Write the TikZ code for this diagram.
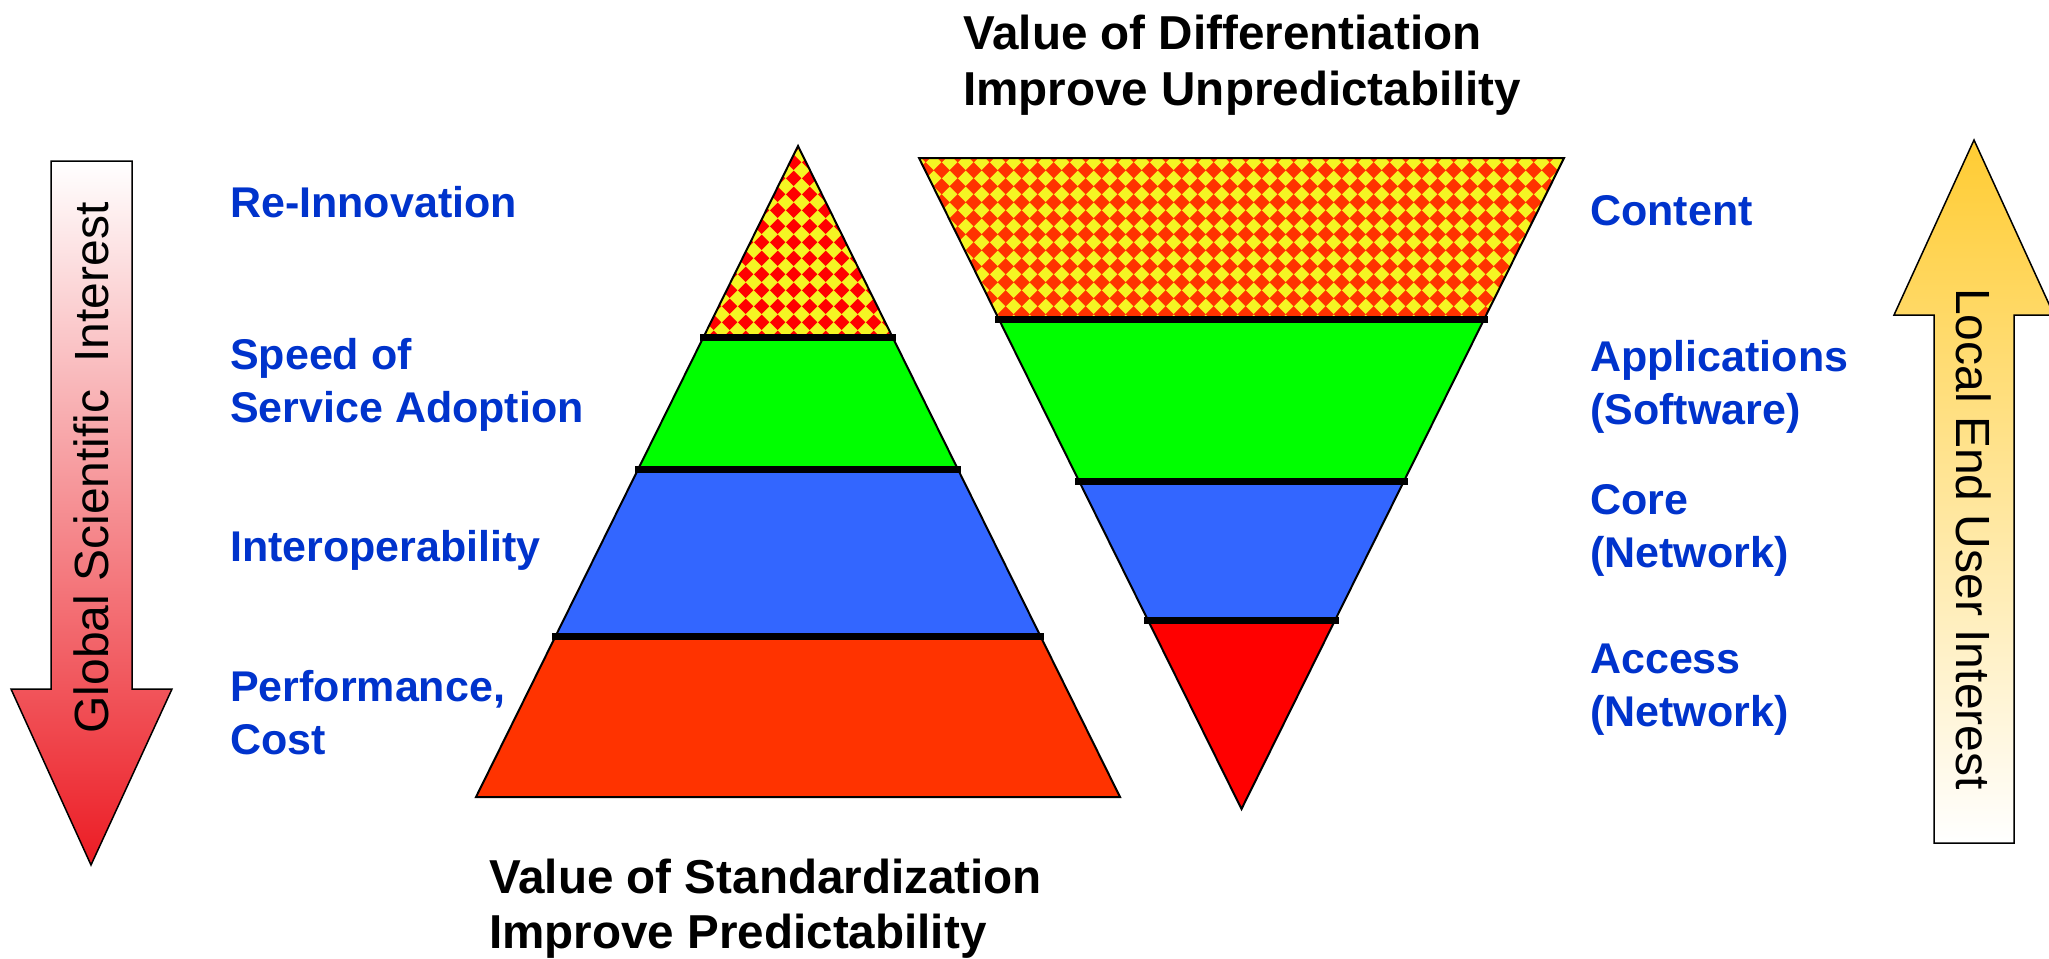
\documentclass[tikz,border=0pt]{standalone}
\usepackage{fontspec}
\setmainfont{Liberation Sans}
\usetikzlibrary{patterns}

\definecolor{lblblue}{RGB}{0,51,204}
\definecolor{bandgreen}{RGB}{0,255,0}
\definecolor{bandblue}{RGB}{51,102,255}
\definecolor{bandorange}{RGB}{255,51,0}
\definecolor{bandred}{RGB}{255,0,0}
\definecolor{checkyellow}{RGB}{245,245,35}
\definecolor{arrowred}{RGB}{236,28,36}
\definecolor{arrowgold}{RGB}{255,204,51}

% diagonal checker tile
\pgfdeclarepatternformonly{checkdiamond}{\pgfpointorigin}{\pgfqpoint{15.7pt}{15.7pt}}{\pgfqpoint{15.7pt}{15.7pt}}{%
  \pgfpathmoveto{\pgfqpoint{7.85pt}{0pt}}%
  \pgfpathlineto{\pgfqpoint{15.7pt}{7.85pt}}%
  \pgfpathlineto{\pgfqpoint{7.85pt}{15.7pt}}%
  \pgfpathlineto{\pgfqpoint{0pt}{7.85pt}}%
  \pgfpathclose
  \pgfusepath{fill}}

\begin{document}
\begin{tikzpicture}[x=1pt,y=-1pt,
    lbl/.style={anchor=base west, inner sep=0pt, align=left, text=lblblue,
      font=\bfseries\fontsize{43}{53}\selectfont},
    ttl/.style={anchor=base west, inner sep=0pt, align=left,
      font=\bfseries\fontsize{47.6}{55}\selectfont},
    arrowtxt/.style={inner sep=0pt, font=\fontsize{48}{58}\selectfont},
    outline/.style={draw=black, line width=2pt, line join=miter},
    divider/.style={draw=black, line width=7pt},
    checker/.style 2 args={fill=#1, postaction={pattern=checkdiamond, pattern color=#2}}]
    \useasboundingbox (0,0) rectangle (2049,958);

    % Side arrows
    \draw[line width=1.5pt, shading=axis, top color=white, bottom color=arrowred]
        (51,161) -- (132,161) -- (132,689) -- (172,689) -- (91,865) -- (11,689) -- (51,689) -- cycle;
    \draw[line width=1.5pt, shading=axis, top color=arrowgold, bottom color=white]
        (1974,140) -- (2054,315) -- (2014,315) -- (2014,843) -- (1934,843) -- (1934,315) -- (1894,315) -- cycle;
    \node[arrowtxt, rotate=90] (global) at (91,468) {Global Scientific\ \ Interest};
    \node[arrowtxt, rotate=-90] (local) at (1974,539) {Local End User Interest};

    % Standardization pyramid
    \path[checker={checkyellow}{bandred}] (798,146) -- (892.5,337) -- (703.5,337) -- cycle;
    \fill[bandgreen] (703.5,337) -- (892.5,337) -- (957.8,469) -- (638.2,469) -- cycle;
    \fill[bandblue] (638.2,469) -- (957.8,469) -- (1040.4,636) -- (555.6,636) -- cycle;
    \fill[bandorange] (555.6,636) -- (1040.4,636) -- (1120,797) -- (476,797) -- cycle;
    \draw[outline] (798,146) -- (1120,797) -- (476,797) -- cycle;
    \draw[divider] (700,337) -- (896,337);
    \draw[divider] (635,469) -- (961,469);
    \draw[divider] (552,636) -- (1044,636);

    % Differentiation funnel
    \path[checker={bandorange}{checkyellow}] (919,158) -- (1564,158) -- (1484.2,319) -- (998.8,319) -- cycle;
    \fill[bandgreen] (998.8,319) -- (1484.2,319) -- (1404,481) -- (1079,481) -- cycle;
    \fill[bandblue] (1079,481) -- (1404,481) -- (1335.1,620) -- (1147.9,620) -- cycle;
    \fill[bandred] (1147.9,620) -- (1335.1,620) -- (1241.5,809) -- cycle;
    \draw[outline] (919,158) -- (1564,158) -- (1241.5,809) -- cycle;
    \draw[divider] (995,319) -- (1488,319);
    \draw[divider] (1075,481) -- (1408,481);
    \draw[divider] (1144,620) -- (1339,620);

    % Titles (base = last line)
    \node[ttl] (diffttl) at (963,105) {Value of Differentiation\\Improve Unpredictability};
    \node[ttl] (stdttl) at (489,948) {Value of Standardization\\Improve Predictability};

    % Left labels
    \node[lbl] (reinnov) at (230,217) {Re-Innovation};
    \node[lbl] (speed) at (230,422) {Speed of\\Service Adoption};
    \node[lbl] (interop) at (230,561) {Interoperability};
    \node[lbl] (perf) at (230,754) {Performance,\\Cost};

    % Right labels
    \node[lbl] (content) at (1590,225) {Content};
    \node[lbl] (apps) at (1590,424) {Applications\\(Software)};
    \node[lbl] (core) at (1590,567) {Core\\(Network)};
    \node[lbl] (access) at (1590,726) {Access\\(Network)};
\end{tikzpicture}
\end{document}
